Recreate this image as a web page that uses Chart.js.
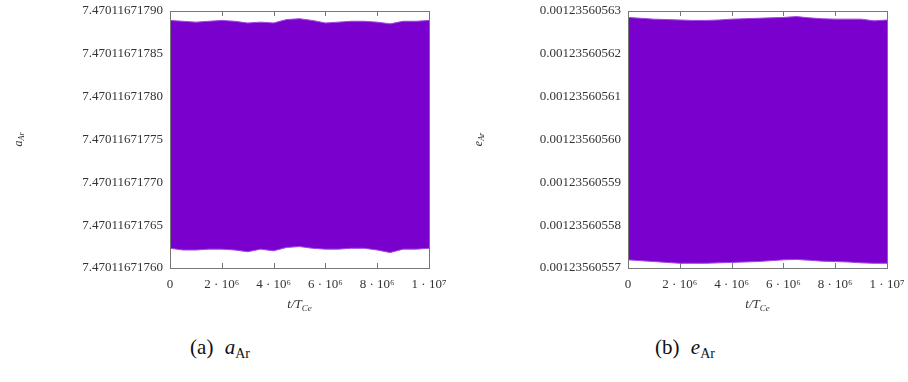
<!DOCTYPE html>
<html>
<head>
<meta charset="utf-8">
<script src="https://cdn.jsdelivr.net/npm/chart.js@4"></script>
<style>
  html, body { margin: 0; padding: 0; background: #fff; }
  body { width: 908px; height: 382px; position: relative; overflow: hidden; font-family: "Liberation Serif", "DejaVu Serif", serif; }
  .panel { position: absolute; top: 0; width: 454px; height: 318px; }
  #wrapA { left: 0; }
  #wrapB { left: 454px; }
  .caption { position: absolute; top: 335px; font-size: 21px; color: #111; white-space: nowrap; transform: translateX(-50%); }
  .caption i { font-style: italic; margin-left: 6px; }
  .caption sub { font-size: 14px; vertical-align: -4px; }
</style>
</head>
<body>
<div class="panel" id="wrapA"><canvas id="chartA"></canvas></div>
<div class="panel" id="wrapB"><canvas id="chartB"></canvas></div>
<div class="caption" style="left:220px">(a) <i>a</i><sub>Ar</sub></div>
<div class="caption" style="left:685px">(b) <i>e</i><sub>Ar</sub></div>

<script>
// Time samples (in units of the Ce orbital period)
const times = [0, 5e5, 1e6, 1.5e6, 2e6, 2.5e6, 3e6, 3.5e6, 4e6, 4.5e6, 5e6,
               5.5e6, 6e6, 6.5e6, 7e6, 7.5e6, 8e6, 8.5e6, 9e6, 9.5e6, 1e7];

// Semi-major axis of Ar: upper and lower envelope of the fast oscillation
const aUpper = [7.470116717889, 7.470116717888, 7.470116717887, 7.470116717888, 7.470116717889,
                7.470116717888, 7.470116717886, 7.470116717887, 7.470116717886, 7.470116717890,
                7.470116717891, 7.470116717889, 7.470116717886, 7.470116717887, 7.470116717888,
                7.470116717888, 7.470116717887, 7.470116717885, 7.470116717888, 7.470116717888,
                7.470116717889];
const aLower = [7.470116717623, 7.470116717621, 7.470116717621, 7.470116717622, 7.470116717622,
                7.470116717621, 7.470116717619, 7.470116717622, 7.470116717620, 7.470116717624,
                7.470116717625, 7.470116717623, 7.470116717622, 7.470116717622, 7.470116717623,
                7.470116717623, 7.470116717621, 7.470116717618, 7.470116717622, 7.470116717622,
                7.470116717623];

// Eccentricity of Ar: upper and lower envelope
const eUpper = [0.0012356056285, 0.0012356056283, 0.0012356056281, 0.0012356056280, 0.0012356056279,
                0.0012356056278, 0.0012356056278, 0.0012356056279, 0.0012356056281, 0.0012356056282,
                0.0012356056283, 0.0012356056284, 0.0012356056285, 0.0012356056287, 0.0012356056284,
                0.0012356056282, 0.0012356056281, 0.0012356056281, 0.0012356056281, 0.0012356056277,
                0.0012356056279];
const eLower = [0.0012356055719, 0.0012356055717, 0.0012356055715, 0.0012356055713, 0.0012356055711,
                0.0012356055711, 0.0012356055711, 0.0012356055712, 0.0012356055713, 0.0012356055714,
                0.0012356055715, 0.0012356055717, 0.0012356055719, 0.0012356055720, 0.0012356055718,
                0.0012356055716, 0.0012356055715, 0.0012356055714, 0.0012356055712, 0.0012356055711,
                0.0012356055711];

// Axis ticks
const xTicks = [0, 2e6, 4e6, 6e6, 8e6, 1e7];
const xTickLabels = ['0', '2 \u00b7 10\u2076', '4 \u00b7 10\u2076', '6 \u00b7 10\u2076', '8 \u00b7 10\u2076', '1 \u00b7 10\u2077'];
const aTicks = [7.47011671760, 7.47011671765, 7.47011671770, 7.47011671775, 7.47011671780, 7.47011671785, 7.47011671790];
const eTicks = [0.00123560557, 0.00123560558, 0.00123560559, 0.00123560560, 0.00123560561, 0.00123560562, 0.00123560563];

const BAND = 'rgb(122, 0, 205)';
const EDGE = 'rgb(160, 70, 225)';
const TEXT = '#333';
const SERIF = '"Liberation Serif", "DejaVu Serif", serif';

// Frame with inward tick marks (drawn under the band) and the box outline on top
const framePlugin = {
  id: 'frame',
  beforeDatasetsDraw(chart) {
    const { ctx, chartArea: a, scales } = chart;
    ctx.save();
    ctx.strokeStyle = '#777';
    ctx.lineWidth = 1;
    ctx.beginPath();
    scales.x.ticks.forEach(t => {
      const px = Math.round(scales.x.getPixelForValue(t.value)) + 0.5;
      ctx.moveTo(px, a.top); ctx.lineTo(px, a.top + 5);
      ctx.moveTo(px, a.bottom); ctx.lineTo(px, a.bottom - 5);
    });
    scales.y.ticks.forEach(t => {
      const py = Math.round(scales.y.getPixelForValue(t.value)) + 0.5;
      ctx.moveTo(a.left, py); ctx.lineTo(a.left + 5, py);
      ctx.moveTo(a.right, py); ctx.lineTo(a.right - 5, py);
    });
    ctx.stroke();
    ctx.restore();
  },
  afterDatasetsDraw(chart) {
    const { ctx, chartArea: a } = chart;
    ctx.save();
    ctx.strokeStyle = '#777';
    ctx.lineWidth = 1;
    ctx.strokeRect(Math.round(a.left) + 0.5, Math.round(a.top) + 0.5,
                   Math.round(a.right - a.left), Math.round(a.bottom - a.top));
    ctx.restore();
  }
};

// Axis titles with subscripts
const titlesPlugin = {
  id: 'axisTitles',
  afterDraw(chart, args, opts) {
    const { ctx, chartArea: a } = chart;
    ctx.save();
    ctx.fillStyle = TEXT;
    ctx.textBaseline = 'alphabetic';
    // x title: t/T_Ce
    const cx = (a.left + a.right) / 2;
    const by = a.bottom + 40;
    ctx.font = 'italic 9px ' + SERIF;
    const subW = ctx.measureText('Ce').width;
    ctx.font = 'italic 13px ' + SERIF;
    const mainW = ctx.measureText('t/T').width;
    const x0 = cx - (mainW + subW) / 2;
    ctx.fillText('t/T', x0, by);
    ctx.font = 'italic 9px ' + SERIF;
    ctx.fillText('Ce', x0 + mainW, by + 3);
    // y title: symbol_Ar, rotated
    ctx.translate(opts.yTitleX, (a.top + a.bottom) / 2);
    ctx.rotate(-Math.PI / 2);
    ctx.font = 'italic 12px ' + SERIF;
    const sw = ctx.measureText(opts.symbol).width;
    ctx.font = 'italic 8px ' + SERIF;
    const aw = ctx.measureText('Ar').width;
    const sx = -(sw + aw) / 2;
    ctx.font = 'italic 12px ' + SERIF;
    ctx.fillText(opts.symbol, sx, 4);
    ctx.font = 'italic 8px ' + SERIF;
    ctx.fillText('Ar', sx + sw, 6);
    ctx.restore();
  }
};

function makeChart(id, upper, lower, yTicks, symbol, areaLeft, padRight, yTitleX) {
  const yMin = yTicks[0], yMax = yTicks[yTicks.length - 1];
  return new Chart(document.getElementById(id), {
    type: 'line',
    data: {
      datasets: [
        { data: times.map((t, i) => ({ x: t, y: lower[i] })), borderColor: EDGE, borderWidth: 1,
          backgroundColor: BAND, pointRadius: 0, fill: false, tension: 0 },
        { data: times.map((t, i) => ({ x: t, y: upper[i] })), borderColor: EDGE, borderWidth: 1,
          backgroundColor: BAND, pointRadius: 0, fill: '-1', tension: 0 }
      ]
    },
    options: {
      responsive: true,
      maintainAspectRatio: false,
      animation: false,
      events: [],
      layout: { padding: { left: 0, right: padRight, top: 11, bottom: 0 } },
      plugins: {
        legend: { display: false },
        tooltip: { enabled: false },
        axisTitles: { symbol: symbol, yTitleX: yTitleX }
      },
      scales: {
        x: {
          type: 'linear',
          min: 0, max: 1e7,
          grid: { display: false, drawTicks: false },
          border: { display: false },
          afterBuildTicks: s => { s.ticks = xTicks.map(v => ({ value: v })); },
          afterFit: s => { s.height = 50; s.paddingLeft = 0; s.paddingRight = 0; },
          ticks: {
            padding: 9,
            maxRotation: 0,
            color: TEXT,
            font: { family: SERIF, size: 13 },
            callback: (v) => xTickLabels[xTicks.indexOf(v)]
          }
        },
        y: {
          type: 'linear',
          min: yMin, max: yMax,
          grid: { display: false, drawTicks: false },
          border: { display: false },
          afterBuildTicks: s => { s.ticks = yTicks.map(v => ({ value: v })); },
          afterFit: s => { s.width = areaLeft; s.paddingTop = 0; s.paddingBottom = 0; },
          ticks: {
            padding: 7,
            color: TEXT,
            font: { family: SERIF, size: 13 },
            callback: (v) => v.toFixed(11)
          }
        }
      }
    },
    plugins: [framePlugin, titlesPlugin]
  });
}

makeChart('chartA', aUpper, aLower, aTicks, 'a', 170, 25, 18);
makeChart('chartB', eUpper, eLower, eTicks, 'e', 174, 21, 24);
</script>
</body>
</html>
